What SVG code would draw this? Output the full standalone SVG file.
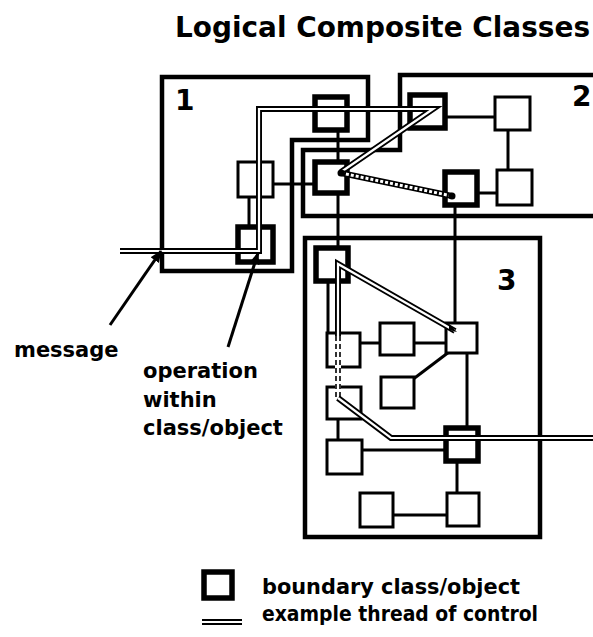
<svg xmlns="http://www.w3.org/2000/svg" width="593" height="637" viewBox="0 0 593 637">
<style>
text{font-family:"DejaVu Sans","Liberation Sans",sans-serif;font-weight:bold;fill:#000}
.grp{fill:none;stroke:#000;stroke-width:4.5;stroke-linejoin:miter}
.n{fill:#fff;stroke:#000;stroke-width:3}
.nb{fill:#fff;stroke:#000;stroke-width:5.5}
.c{fill:none;stroke:#000;stroke-width:3}
.to{fill:none;stroke:#000;stroke-width:6;stroke-linejoin:miter}
.ti{fill:none;stroke:#fff;stroke-width:2.2;stroke-linejoin:miter}
.lbl{font-size:21px}
.num{font-size:28px}
</style>
<defs>
<marker id="ah" markerWidth="12" markerHeight="10" refX="11" refY="5" orient="auto" markerUnits="userSpaceOnUse" viewBox="0 0 12 10">
<path d="M0,0 L12,5 L0,10 z" fill="#000"/>
</marker>
</defs>
<rect width="593" height="637" fill="#fff"/>
<text x="175" y="37" font-size="28" textLength="415" lengthAdjust="spacingAndGlyphs">Logical Composite Classes</text>

<g id="group1">
<path class="grp" d="M162,77 H368 V140 H292 V271 H162 Z"/>
<text class="num" x="175" y="110">1</text>
</g>
<g id="group2">
<path class="grp" d="M600,75 H400 V150 H303 V216 H600"/>
<text class="num" x="572" y="106">2</text>
</g>
<g id="group3">
<rect class="grp" x="305" y="238" width="235" height="299"/>
<text class="num" x="497" y="290">3</text>
</g>

<g id="connectors">
<line class="c" x1="249" y1="197" x2="249" y2="227"/>
<line class="c" x1="273" y1="184" x2="315" y2="184"/>
<line class="c" x1="338" y1="130" x2="338" y2="162"/>
<line class="c" x1="338" y1="193" x2="338" y2="248"/>
<line class="c" x1="445" y1="117" x2="495" y2="117"/>
<line class="c" x1="508" y1="130" x2="508" y2="170"/>
<line class="c" x1="477" y1="193" x2="497" y2="193"/>
<line class="c" x1="455" y1="205" x2="455" y2="323" stroke-width="2"/>
<line class="c" x1="328" y1="281" x2="328" y2="333"/>
<line class="c" x1="360" y1="343" x2="380" y2="343"/>
<line class="c" x1="414" y1="343" x2="446" y2="343"/>
<line class="c" x1="449" y1="352" x2="412" y2="380"/>
<line class="c" x1="467" y1="353" x2="467" y2="428"/>
<line class="c" x1="338" y1="419" x2="338" y2="440"/>
<line class="c" x1="362" y1="450" x2="446" y2="450"/>
<line class="c" x1="457" y1="461" x2="457" y2="493"/>
<line class="c" x1="393" y1="515" x2="447" y2="515"/>
</g>

<g id="nodeA"><rect class="n" x="238" y="162" width="35" height="35"/></g>
<g id="nodeB"><rect class="nb" x="238" y="227" width="35" height="35"/></g>
<g id="nodeC"><rect class="nb" x="315" y="97" width="32" height="33"/></g>
<g id="nodeD"><rect class="nb" x="315" y="162" width="32" height="31"/></g>
<g id="nodeE"><rect class="nb" x="410" y="95" width="35" height="33"/></g>
<g id="nodeF"><rect class="n" x="495" y="97" width="35" height="33"/></g>
<g id="nodeG"><rect class="nb" x="445" y="172" width="32" height="33"/></g>
<g id="nodeH"><rect class="n" x="497" y="170" width="35" height="35"/></g>
<g id="nodeI"><rect class="nb" x="316" y="248" width="32" height="33"/></g>
<g id="nodeJ"><rect class="n" x="327" y="333" width="33" height="34"/></g>
<g id="nodeK"><rect class="n" x="380" y="323" width="34" height="32"/></g>
<g id="nodeL"><rect class="n" x="446" y="323" width="31" height="30" stroke-width="4"/></g>
<g id="nodeM"><rect class="n" x="381" y="377" width="33" height="31"/></g>
<g id="nodeN"><rect class="n" x="327" y="387" width="34" height="32"/></g>
<g id="nodeO"><rect class="n" x="327" y="440" width="35" height="34"/></g>
<g id="nodeP"><rect class="nb" x="446" y="428" width="32" height="33"/></g>
<g id="nodeQ"><rect class="n" x="360" y="493" width="33" height="34"/></g>
<g id="nodeR"><rect class="n" x="447" y="493" width="32" height="33"/></g>

<g id="threads">
<path class="to" d="M120,251 H259 V109 H433 L341,172"/>
<path class="ti" d="M120,251 H259 V109 H433 L341,172"/>
<line x1="341" y1="173" x2="452" y2="196" stroke="#000" stroke-width="6"/>
<line x1="341" y1="173" x2="452" y2="196" stroke="#fff" stroke-width="3" stroke-dasharray="3 2"/>
<circle cx="341" cy="173" r="3.5" fill="#000"/>
<circle cx="452" cy="196" r="3.5" fill="#000"/>
<path class="to" d="M455,331 L338,264 V336"/>
<path class="ti" d="M455,331 L338,264 V336"/>
<line x1="338" y1="336" x2="338" y2="398" stroke="#fff" stroke-width="6"/>
<line x1="336" y1="336" x2="336" y2="398" stroke="#000" stroke-width="1.6" stroke-dasharray="5 3"/>
<line x1="340" y1="336" x2="340" y2="398" stroke="#000" stroke-width="1.6" stroke-dasharray="5 3"/>
<path class="to" d="M338,398 L391,438 H600"/>
<path class="ti" d="M338,398 L391,438 H600"/>
<path d="M449,324 L457,332 L449,330 Z" fill="#000"/>
</g>

<g id="annotations">
<line x1="110" y1="325" x2="161" y2="251" stroke="#000" stroke-width="3" marker-end="url(#ah)"/>
<line x1="228" y1="347" x2="258" y2="253" stroke="#000" stroke-width="3" marker-end="url(#ah)"/>
<text class="lbl" x="14" y="357">message</text>
<text class="lbl" x="143" y="378">operation</text>
<text class="lbl" x="143" y="407">within</text>
<text class="lbl" x="143" y="435">class/object</text>
</g>

<g id="legend">
<rect class="nb" x="204" y="572" width="28" height="26"/>
<line x1="202" y1="622" x2="242" y2="622" stroke="#000" stroke-width="6"/>
<line x1="202" y1="622" x2="242" y2="622" stroke="#fff" stroke-width="2"/>
<text class="lbl" x="262" y="594" textLength="258" lengthAdjust="spacingAndGlyphs">boundary class/object</text>
<text class="lbl" x="262" y="621" textLength="276" lengthAdjust="spacingAndGlyphs">example thread of control</text>
</g>
</svg>
